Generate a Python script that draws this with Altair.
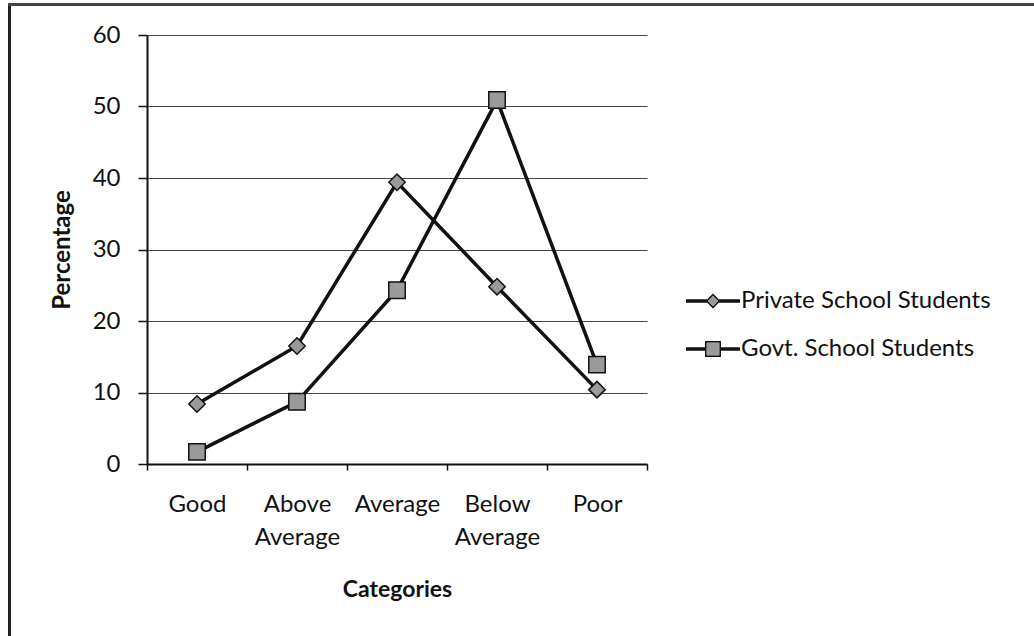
import altair as alt
import pandas as pd

categories = ["Good", "Above Average", "Average", "Below Average", "Poor"]
series_names = ["Private School Students", "Govt. School Students"]
private_vals = [8.4, 16.5, 39.4, 24.8, 10.4]
govt_vals = [1.7, 8.7, 24.3, 50.9, 13.9]
y_ticks = [0, 10, 20, 30, 40, 50, 60]

rows = []
for c, v in zip(categories, private_vals):
    rows.append({"Category": c, "Value": v, "Series": series_names[0]})
for c, v in zip(categories, govt_vals):
    rows.append({"Category": c, "Value": v, "Series": series_names[1]})
df = pd.DataFrame(rows)

FONT = "Lato"

x_enc = alt.X(
    "Category:N",
    sort=categories,
    scale=alt.Scale(type="band", paddingInner=0, paddingOuter=0),
    axis=alt.Axis(
        title="Categories",
        tickBand="extent",
        labelExpr="split(datum.label, ' ')",
        labelAngle=0,
        labelAlign="center",
        labelBaseline="top",
        labelLineHeight=33,
        labelFontSize=24,
        labelPadding=22,
        tickSize=6,
        tickWidth=1.5,
        domainWidth=2,
        titleFontSize=23,
        titleFontWeight="bold",
        titlePadding=29,
        grid=False,
    ),
)
y_enc = alt.Y(
    "Value:Q",
    scale=alt.Scale(domain=[0, 60], nice=False, zero=True),
    axis=alt.Axis(
        title="Percentage",
        values=y_ticks,
        grid=True,
        gridColor="#444444",
        gridWidth=1,
        tickSize=9,
        tickWidth=1.5,
        domainWidth=2,
        labelFontSize=24,
        labelPadding=18,
        titleFontSize=24,
        titleFontWeight="bold",
        titlePadding=18,
    ),
)

lines = alt.Chart(df).mark_line(color="#111111", strokeWidth=3.5).encode(
    x=x_enc, y=y_enc, detail="Series:N"
)

points = alt.Chart(df).mark_point(
    filled=True, fill="#9a9a9a", stroke="#111111", strokeWidth=1.5, opacity=1, size=270
).encode(
    x=x_enc,
    y=y_enc,
    shape=alt.Shape(
        "Series:N",
        scale=alt.Scale(domain=series_names, range=["diamond", "square"]),
        legend=None,
    ),
)

# Legend symbols (fill-only shapes): black line + marker outline, then grey marker inside
diamond_outline = (
    "M-1.35,-0.09L-0.3,-0.09L-0.3,0.09L-1.35,0.09Z"
    "M0.3,-0.09L1.35,-0.09L1.35,0.09L0.3,0.09Z"
    "M0,-0.37L0.37,0L0,0.37L-0.37,0Z"
    "M0,-0.25L-0.25,0L0,0.25L0.25,0Z"
)
square_outline = (
    "M-1.35,-0.09L-0.38,-0.09L-0.38,0.09L-1.35,0.09Z"
    "M0.38,-0.09L1.35,-0.09L1.35,0.09L0.38,0.09Z"
    "M-0.4,-0.4L0.4,-0.4L0.4,0.4L-0.4,0.4Z"
    "M-0.31,-0.31L-0.31,0.31L0.31,0.31L0.31,-0.31Z"
)
diamond_inner = "M0,-0.26L0.26,0L0,0.26L-0.26,0Z"
square_inner = "M-0.32,-0.32L0.32,-0.32L0.32,0.32L-0.32,0.32Z"


def legend_props(label_opacity):
    return dict(
        title=None,
        orient="none",
        legendX=546,
        legendY=246,
        symbolSize=1600,
        symbolStrokeWidth=0,
        symbolOpacity=1,
        labelFontSize=24,
        labelFont=FONT,
        labelColor="#111111",
        labelOpacity=label_opacity,
        labelOffset=8,
        labelLimit=0,
        rowPadding=16,
        padding=0,
    )


legend_a = alt.Chart(df).transform_filter("false").mark_point(
    filled=True, fill="#111111", strokeWidth=0, opacity=1
).encode(
    x=x_enc,
    y=y_enc,
    shape=alt.Shape(
        "Series:N",
        scale=alt.Scale(domain=series_names, range=[diamond_outline, square_outline]),
        legend=alt.Legend(**legend_props(1)),
    ),
)

legend_b = alt.Chart(df).transform_filter("false").mark_point(
    filled=True, fill="#9a9a9a", strokeWidth=0, opacity=1
).encode(
    x=x_enc,
    y=y_enc,
    shape=alt.Shape(
        "Series:N",
        scale=alt.Scale(domain=series_names, range=[diamond_inner, square_inner]),
        legend=alt.Legend(**legend_props(0)),
    ),
)

border_data = alt.Data(values=[{"k": 1}])
border_left = alt.Chart(border_data).mark_rule(color="#222222", strokeWidth=3).encode(
    x=alt.value(-137.5), y=alt.value(-31), y2=alt.value(601)
)
border_top = alt.Chart(border_data).mark_rule(color="#444444", strokeWidth=3).encode(
    x=alt.value(-139), x2=alt.value(887), y=alt.value(-30.5)
)

chart = (
    alt.layer(lines, points, legend_a, legend_b, border_left, border_top)
    .resolve_scale(shape="independent")
    .properties(
        width=500,
        height=429,
        padding={"left": 147, "top": 35, "right": 387, "bottom": 172},
        autosize=alt.AutoSizeParams(type="none"),
        background="white",
    )
    .configure_view(stroke=None)
    .configure_axis(
        labelFont=FONT,
        titleFont=FONT,
        labelColor="#111111",
        titleColor="#111111",
        domainColor="#111111",
        tickColor="#111111",
    )
    .configure_legend(labelFont=FONT)
)

chart.save("out.html", embed_options={"renderer": "svg", "actions": False})
